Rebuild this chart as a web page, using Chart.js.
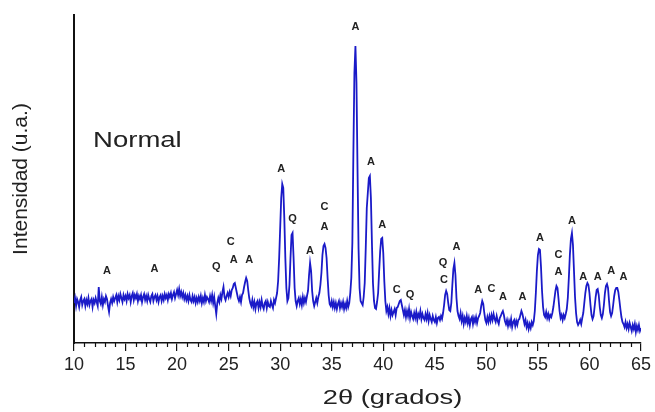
<!DOCTYPE html>
<html>
<head>
<meta charset="utf-8">
<script src="https://cdn.jsdelivr.net/npm/chart.js@4.4.1/dist/chart.umd.min.js"></script>
<style>
  html, body { margin: 0; padding: 0; background: #fff; }
  #wrap { width: 655px; height: 412px; }
</style>
</head>
<body>
<div id="wrap"><canvas id="xrdGrafico"></canvas></div>
<script>
// patrón de difracción, muestra "Normal"
const angleStart = 10;
const angleStep = 0.1;

// intensidad leída cada 0.1 grados (una fila por grado, de 10 a 65)
const intensity = [
  40,45,37,44,41,36,43,46,38,42,
  44,37,43,39,45,38,42,44,36,43,
  40,45,41,37,56,42,39,46,38,44,
  41,47,44,37,31,40,44,40,46,42,
  45,48,41,47,43,49,45,41,48,44,
  47,42,49,45,48,41,47,50,43,48,
  45,49,42,47,44,48,41,46,49,43,
  47,42,48,44,41,47,49,42,46,48,
  43,47,41,46,48,42,47,43,49,45,
  48,43,49,46,50,44,48,51,45,49,
  53,48,54,47,51,46,50,44,48,43,
  47,42,48,43,41,47,42,46,40,45,
  41,46,42,47,40,45,41,48,42,46,
  44,41,47,42,48,40,46,37,29,40,
  45,41,48,44,51,56,46,43,47,50,
  46,51,47,53,55,59,60,55,50,45,
  42,46,41,48,50,56,61,65,62,53,
  45,40,37,43,36,41,34,40,42,35,
  41,36,43,37,34,40,42,35,41,37,
  36,42,38,35,43,40,45,50,62,85,
  115,145,159,155,125,85,55,42,45,58,
  85,108,110,85,55,42,37,42,45,39,
  44,38,46,40,45,41,47,52,68,80,
  72,52,42,37,41,45,40,46,50,58,
  70,88,97,99,95,85,65,48,39,37,
  42,36,41,35,40,34,39,42,35,40,
  36,41,34,39,35,42,36,40,50,65,
  100,190,270,297,260,175,95,55,42,40,
  38,46,60,95,135,150,165,167,145,100,
  60,42,35,34,41,50,72,92,104,105,
  90,62,42,32,36,29,35,27,33,28,
  31,34,28,35,36,39,42,43,38,33,
  28,33,26,32,27,34,25,31,27,24,
  30,25,31,23,29,26,32,24,29,25,
  23,29,24,30,22,28,24,21,27,23,
  21,26,20,25,26,23,27,24,30,38,
  48,52,49,40,33,32,40,58,74,80,
  68,45,32,27,24,30,22,27,19,25,
  21,27,20,25,18,24,26,19,25,21,
  26,20,25,27,30,37,42,39,30,23,
  20,26,21,27,22,28,23,29,24,21,
  27,22,19,25,27,30,32,28,22,19,
  23,17,22,18,24,16,21,23,17,22,
  18,23,24,28,32,29,24,19,23,16,
  20,14,19,15,21,18,22,32,50,72,
  88,94,93,76,52,36,28,26,31,25,
  29,24,28,26,30,36,44,52,57,55,
  44,32,25,28,23,28,25,29,34,45,
  65,88,104,110,98,72,46,30,21,18,
  20,23,19,25,30,40,50,57,60,58,
  50,38,28,24,27,36,46,53,54,48,
  36,28,25,29,38,50,57,59,55,42,
  31,27,30,38,47,53,55,55,51,43,
  34,26,21,19,16,21,15,19,14,20,
  16,12,18,14,19,11,17,13,18,12,
  15
];

// fases identificadas sobre los picos
const peakLetters = ["A","A","Q","C","A","A","A","Q","A","C","A","A","A","A","C","Q",
  "Q","C","A","A","C","A","A","A","C","A","A","A","A","A","A"];
const peakAngles = [13.2,17.8,23.8,25.2,25.5,27.0,30.1,31.2,32.9,34.3,34.3,37.3,38.8,39.9,41.3,42.6,
  45.8,45.9,47.1,49.2,50.5,51.6,53.5,55.2,57.0,57.0,58.3,59.4,60.8,62.1,63.3];
const peakHeights = [72,74,76,101,83,83,174,124,92,136,116,316,181,118,53,48,
  80,63,96,53,54,46,46,105,88,71,122,66,66,72,66];

const xTicks = [10, 15, 20, 25, 30, 35, 40, 45, 50, 55, 60, 65];

let points = [];
for (let i = 0; i < intensity.length; i++) {
  points.push({ x: angleStart + i * angleStep, y: intensity[i] });
}

// texto algo ensanchado, como en la figura original
function wideText(ctx, text, cx, cy, size, stretch, align) {
  ctx.save();
  ctx.font = size + "px 'Liberation Sans', Arial, sans-serif";
  ctx.textAlign = align;
  ctx.textBaseline = "middle";
  ctx.translate(cx, cy);
  ctx.scale(stretch, 1);
  ctx.fillText(text, 0, 0);
  ctx.restore();
}

// marcas menores del eje x, letras de los picos, titulo x y "Normal"
const extrasPlugin = {
  id: "extras",
  afterDraw(chart) {
    const ctx = chart.ctx;
    const x = chart.scales.x;
    const y = chart.scales.y;
    ctx.save();
    ctx.strokeStyle = "#111";
    ctx.lineWidth = 1.2;
    for (let v = x.min + 1; v < x.max; v++) {
      if (xTicks.includes(v)) continue;
      const px = Math.round(x.getPixelForValue(v)) + 0.5;
      ctx.beginPath();
      ctx.moveTo(px, x.top);
      ctx.lineTo(px, x.top + 4);
      ctx.stroke();
    }
    ctx.fillStyle = "#222";
    ctx.textAlign = "center";
    ctx.textBaseline = "middle";
    ctx.font = "bold 11px 'Liberation Sans', Arial, sans-serif";
    for (let i = 0; i < peakLetters.length; i++) {
      ctx.fillText(peakLetters[i], x.getPixelForValue(peakAngles[i]), y.getPixelForValue(peakHeights[i]));
    }
    wideText(ctx, "Normal", x.getPixelForValue(11.85), y.getPixelForValue(202), 22, 1.25, "left");
    wideText(ctx, "2θ (grados)", (x.left + x.right) / 2 + 35, 398, 21, 1.3, "center");
    ctx.restore();
  }
};

let xrdGrafico = document.getElementById("xrdGrafico");
const config = {
  type: "line",
  data: {
    datasets: [
      {
        label: "Normal",
        data: points,
        borderColor: "#1a1ac8",
        borderWidth: 1.8,
        pointRadius: 0,
        fill: false,
        tension: 0,
      },
    ],
  },
  options: {
    responsive: true,
    maintainAspectRatio: false,
    animation: false,
    layout: { padding: { top: 15, right: 14, left: 0, bottom: 0 } },
    plugins: {
      legend: { display: false },
      tooltip: { enabled: false },
    },
    scales: {
      x: {
        type: "linear",
        min: 10,
        max: 65,
        afterFit: (s) => { s.height = 69; },
        afterBuildTicks: (s) => { s.ticks = xTicks.map((v) => ({ value: v })); },
        grid: { drawOnChartArea: false, tickLength: 8, color: "#111", lineWidth: 1.2 },
        border: { color: "#111", width: 1.5 },
        ticks: {
          color: "#222",
          padding: 3,
          maxRotation: 0,
          font: { family: "'Liberation Sans', Arial, sans-serif", size: 18 },
        },
      },
      y: {
        min: 0,
        max: 328,
        afterFit: (s) => { s.width = 74; },
        grid: { display: false },
        border: { color: "#111", width: 2 },
        ticks: { display: false },
        title: {
          display: true,
          text: "Intensidad (u.a.)",
          color: "#222",
          font: { family: "'Liberation Sans', Arial, sans-serif", size: 21 },
          padding: { top: 9, bottom: 0 },
        },
      },
    },
  },
  plugins: [extrasPlugin],
};

let myGraph = new Chart(xrdGrafico, config);
</script>
</body>
</html>
